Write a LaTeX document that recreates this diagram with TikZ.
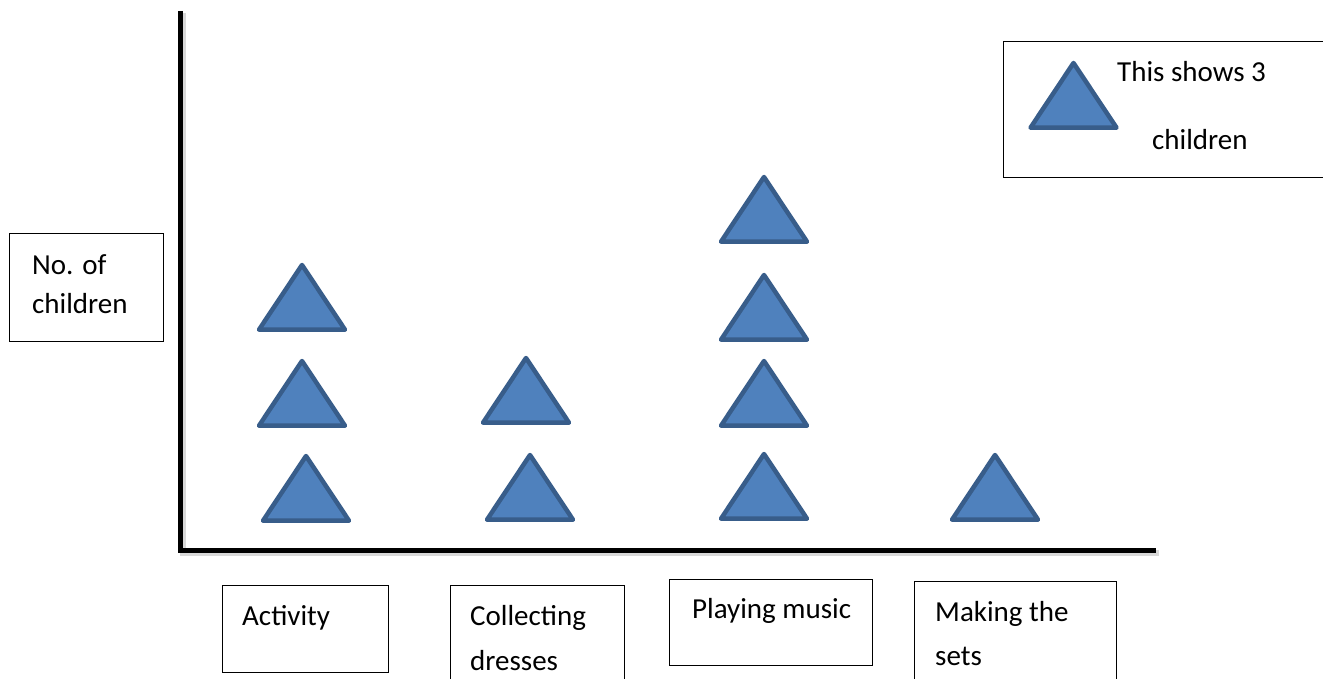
\documentclass[tikz,border=0pt]{standalone}
\usepackage{fontspec}
\setmainfont{Carlito}
\definecolor{trifill}{HTML}{4F81BD}
\definecolor{tridraw}{HTML}{385D8A}
\tikzset{
  tri/.style={fill=trifill, draw=tridraw, line width=4.5pt, line join=round},
  box/.style={draw=black, line width=1.4pt, fill=none},
  axis/.style={line width=5pt, black},
  axshadow/.style={line width=6pt, black!25, opacity=0.6},
  lbl/.style={anchor=base west, inner sep=0pt, font=\fontsize{29}{35}\selectfont},
}
\newcommand\mytri[3]{% name, cx, outer bottom y
  \path[tri] (#2-43,#3-2.3) -- (#2+43,#3-2.3) -- (#2,#3-67) -- cycle;
  \coordinate (#1) at (#2,#3-35);
}
\begin{document}
\begin{tikzpicture}[x=1pt,y=-1pt]
\useasboundingbox (0,0) rectangle (1323,679);
\clip (0,0) rectangle (1323,679);
\fill[white] (0,0) rectangle (1323,679);
% axes
\coordinate (otop) at (180,11);
\coordinate (orig) at (180,550.5);
\coordinate (xend) at (1156,550.5);
\draw[axshadow] ([shift={(2.5,2.5)}]otop) -- ([shift={(2.5,2.5)}]orig) -- ([shift={(2.5,2.5)}]xend);
\draw[axis] (otop) -- (orig) -- (xend);
% boxes
\node[box, minimum width=154pt, minimum height=108pt, anchor=north west] (ybox) at (9,233) {};
\node[box, minimum width=330pt, minimum height=136pt, anchor=north west] (legend) at (1003,41) {};
\node[box, minimum width=166pt, minimum height=87pt, anchor=north west] (act) at (222,585) {};
\node[box, minimum width=174pt, minimum height=110pt, anchor=north west] (coll) at (450,585) {};
\node[box, minimum width=203pt, minimum height=86pt, anchor=north west] (play) at (669,579) {};
\node[box, minimum width=202pt, minimum height=110pt, anchor=north west] (make) at (914,581) {};
% texts
\node[lbl] (t1) at (32,274) {No. of};
\node[lbl] (t2) at (32,313) {children};
\node[lbl] (t3) at (1117,82) {This shows 3};
\node[lbl] (t4) at (1152,150) {children};
\node[lbl] (t5) at (242,625) {Activity};
\node[lbl] (t6) at (470,625) {Collecting};
\node[lbl] (t7) at (470,670) {dresses};
\node[lbl] (t8) at (692,618) {Playing music};
\node[lbl] (t9) at (935,621) {Making the};
\node[lbl] (t10) at (935,665) {sets};
% triangles
\mytri{a1}{302}{332}
\mytri{a2}{302}{428}
\mytri{a3}{306}{523}
\mytri{c1}{526}{425}
\mytri{c2}{530}{522}
\mytri{p1}{764}{244}
\mytri{p2}{764}{342}
\mytri{p3}{764}{428}
\mytri{p4}{764}{521}
\mytri{m1}{995}{522}
\mytri{lg}{1073.5}{130}
\end{tikzpicture}
\end{document}
